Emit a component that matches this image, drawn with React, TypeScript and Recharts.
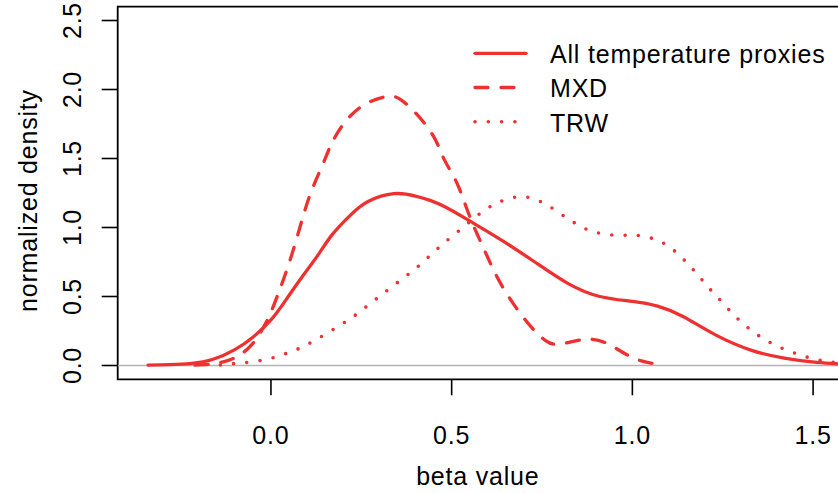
import React from "react";
import {
  LineChart,
  Line,
  XAxis,
  YAxis,
  ReferenceLine,
  ReferenceArea,
  Legend,
  Label,
} from "recharts";

const RED = "#ee3030";
const FONT = "'Liberation Sans', Arial, Helvetica, sans-serif";

// All temperature proxies
const allX = [-0.34, -0.28, -0.22, -0.16, -0.1, -0.05, 0.0, 0.04, 0.08, 0.13, 0.17, 0.22, 0.27, 0.34, 0.4, 0.47, 0.56, 0.64, 0.73, 0.82, 0.91, 1.0, 1.07, 1.14, 1.23, 1.33, 1.42, 1.51, 1.6];
const allY = [0.003, 0.006, 0.015, 0.045, 0.115, 0.205, 0.33, 0.47, 0.62, 0.8, 0.95, 1.09, 1.19, 1.245, 1.228, 1.165, 1.032, 0.905, 0.75, 0.597, 0.5, 0.465, 0.43, 0.355, 0.222, 0.11, 0.054, 0.022, 0.008];

// MXD
const mxdX = [-0.21, -0.16, -0.12, -0.09, -0.05, -0.01, 0.02, 0.05, 0.08, 0.11, 0.145, 0.17, 0.21, 0.265, 0.325, 0.36, 0.4, 0.45, 0.48, 0.515, 0.55, 0.59, 0.625, 0.67, 0.72, 0.76, 0.8, 0.87, 0.93, 0.98, 1.03, 1.075];
const mxdY = [0.003, 0.012, 0.035, 0.07, 0.16, 0.33, 0.52, 0.74, 1.0, 1.25, 1.467, 1.62, 1.78, 1.9, 1.95, 1.925, 1.83, 1.66, 1.49, 1.32, 1.08, 0.84, 0.645, 0.45, 0.28, 0.18, 0.155, 0.19, 0.16, 0.085, 0.03, 0.008];

// TRW
const trwX = [-0.14, -0.12, -0.086, -0.05, -0.01, 0.025, 0.062, 0.099, 0.163, 0.228, 0.288, 0.348, 0.408, 0.463, 0.523, 0.578, 0.613, 0.647, 0.684, 0.721, 0.756, 0.789, 0.821, 0.853, 0.887, 0.924, 0.963, 1.001, 1.038, 1.075, 1.107, 1.136, 1.162, 1.187, 1.212, 1.238, 1.264, 1.29, 1.318, 1.349, 1.381, 1.416, 1.452, 1.487, 1.524, 1.56, 1.6];
const trwY = [0.004, 0.01, 0.017, 0.027, 0.046, 0.071, 0.107, 0.15, 0.246, 0.355, 0.476, 0.597, 0.72, 0.851, 0.983, 1.1, 1.16, 1.2, 1.222, 1.213, 1.175, 1.121, 1.065, 1.014, 0.973, 0.952, 0.943, 0.944, 0.933, 0.901, 0.851, 0.783, 0.713, 0.638, 0.561, 0.488, 0.413, 0.343, 0.278, 0.217, 0.167, 0.123, 0.087, 0.058, 0.036, 0.022, 0.012];

const xTicks = [0, 0.5, 1, 1.5];
const yTicks = [0, 0.5, 1, 1.5, 2, 2.5];
const legendNames = ["All temperature proxies", "MXD", "TRW"];

const toRows = (xs: number[], ys: number[]) => xs.map((x, i) => ({ x, y: ys[i] }));
const allData = toRows(allX, allY);
const mxdData = toRows(mxdX, mxdY);
const trwData = toRows(trwX, trwY);

const dashes: (string | undefined)[] = [undefined, "13 13", "0 13.3"];

const textStyle = { fontFamily: FONT, fontSize: 25, letterSpacing: 0.8, fill: "#000" };

const YTick = (props: any) => {
  const { x, y, payload } = props;
  return (
    <text
      x={x}
      y={y}
      transform={`rotate(-90 ${x} ${y})`}
      textAnchor="middle"
      style={textStyle}
    >
      {Number(payload.value).toFixed(1)}
    </text>
  );
};

const LegendBox = () => (
  <svg width={400} height={130}>
    {legendNames.map((name, i) => {
      const y = 33.3 + i * 34.2;
      return (
        <g key={name}>
          <line
            x1={35}
            x2={86}
            y1={y}
            y2={y}
            stroke={RED}
            strokeWidth={i === 2 ? 3.6 : 3.3}
            strokeLinecap="round"
            strokeDasharray={dashes[i]}
          />
          <text x={110} y={y + 9.8} style={textStyle}>
            {name}
          </text>
        </g>
      );
    })}
  </svg>
);

export default function App() {
  return (
    <div
      style={{
        position: "absolute",
        left: 0,
        top: 0,
        width: 838,
        height: 493,
        overflow: "hidden",
        background: "#fff",
      }}
    >
      <LineChart
        width={845}
        height={493}
        margin={{ top: 6.7, right: 3, bottom: 0, left: 17.7 }}
      >
        <XAxis
          type="number"
          dataKey="x"
          domain={[-0.424, 1.58]}
          allowDataOverflow
          ticks={xTicks}
          tickFormatter={(v: number) => v.toFixed(1)}
          height={113.7}
          tickSize={16}
          tickMargin={30.7}
          axisLine={false}
          tickLine={{ stroke: "#000", strokeWidth: 1.6 }}
          tick={textStyle}
        >
          <Label
            content={(p: any) => {
              const vb = p.viewBox;
              return (
                <text
                  x={vb.x + vb.width / 2 - 2}
                  y={485}
                  textAnchor="middle"
                  style={textStyle}
                >
                  beta value
                </text>
              );
            }}
          />
        </XAxis>
        <YAxis
          type="number"
          dataKey="y"
          domain={[-0.1, 2.6]}
          allowDataOverflow
          ticks={yTicks}
          width={100}
          tickSize={16}
          tickMargin={21.2}
          axisLine={false}
          tickLine={{ stroke: "#000", strokeWidth: 1.6 }}
          tick={<YTick />}
        >
          <Label
            content={() => (
              <text
                x={37}
                y={200.5}
                transform="rotate(-90 37 200.5)"
                textAnchor="middle"
                style={textStyle}
              >
                normalized density
              </text>
            )}
          />
        </YAxis>
        <ReferenceLine y={0} stroke="#b4b4b4" strokeWidth={1.6} />
        <Line
          data={trwData}
          dataKey="y"
          type="natural"
          stroke={RED}
          strokeWidth={3.6}
          strokeLinecap="round"
          strokeDasharray={dashes[2]}
          dot={false}
          activeDot={false}
          isAnimationActive={false}
        />
        <Line
          data={mxdData}
          dataKey="y"
          type="natural"
          stroke={RED}
          strokeWidth={3.3}
          strokeLinecap="round"
          strokeDasharray={dashes[1]}
          dot={false}
          activeDot={false}
          isAnimationActive={false}
        />
        <Line
          data={allData}
          dataKey="y"
          type="natural"
          stroke={RED}
          strokeWidth={3.3}
          strokeLinecap="round"
          dot={false}
          activeDot={false}
          isAnimationActive={false}
        />
        <ReferenceArea
          x1={-0.424}
          x2={1.58}
          y1={-0.1}
          y2={2.6}
          stroke="#000"
          strokeWidth={1.8}
          fill="none"
          fillOpacity={0}
          ifOverflow="visible"
        />
        <Legend
          layout="horizontal"
          verticalAlign="middle"
          align="center"
          width={400}
          height={130}
          wrapperStyle={{ left: 440, top: 20, width: 400, height: 130 }}
          content={<LegendBox />}
        />
      </LineChart>
    </div>
  );
}
